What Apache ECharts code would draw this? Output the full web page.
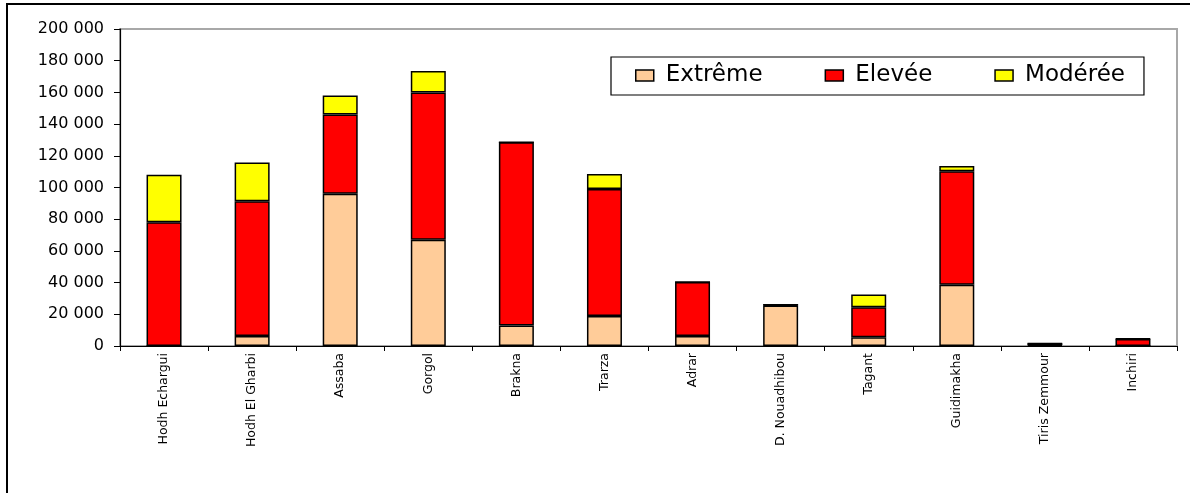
<!DOCTYPE html>
<html>
<head>
<meta charset="utf-8">
<title>Population par wilaya et niveau d'insécurité</title>
<script src="https://cdn.jsdelivr.net/npm/echarts@6/dist/echarts.min.js"></script>
<style>
  html, body { margin: 0; padding: 0; background: #fff; }
  #chart { position: absolute; left: 0; top: 0; width: 1190px; height: 493px; }
  #frame {
    position: absolute; left: 6px; top: 3px; width: 1200px; height: 500px;
    border-left: 2px solid #000; border-top: 2px solid #000; pointer-events: none;
  }
</style>
</head>
<body>
<div id="chart"></div>
<div id="frame"></div>
<script>
// Wilayas (categories) and population counts by severity level
const wilayas = ['Hodh Echargui', 'Hodh El Gharbi', 'Assaba', 'Gorgol', 'Brakna', 'Trarza',
                 'Adrar', 'D. Nouadhibou', 'Tagant', 'Guidimakha', 'Tiris Zemmour', 'Inchiri'];
const extreme = [0, 6300, 96000, 67000, 13000, 19000, 6300, 25500, 5500, 38700, 500, 0];
const elevee  = [78000, 85000, 50000, 93000, 115500, 80000, 34000, 500, 19000, 71500, 1000, 4400];
const moderee = [30000, 24500, 12000, 13500, 0, 9500, 0, 0, 8000, 3400, 200, 200];
const seriesNames = ['Extrême', 'Elevée', 'Modérée'];
const seriesColors = ['#FFCC99', '#FF0000', '#FFFF00'];
const yTicks = { min: 0, max: 200000, step: 20000 };

const fmt = v => String(v).replace(/\B(?=(\d{3})+(?!\d))/g, ' ');

const chart = echarts.init(document.getElementById('chart'), null, { renderer: 'canvas' });

const makeSeries = (name, data, color) => ({
  name,
  type: 'bar',
  stack: 'total',
  data,
  barWidth: 35,
  itemStyle: { color, borderColor: '#000', borderWidth: 1.5 },
  emphasis: { disabled: true }
});

chart.setOption({
  animation: false,
  backgroundColor: '#fff',
  textStyle: { fontFamily: 'DejaVu Sans' },
  grid: {
    left: 120, right: 13, top: 29, bottom: 147,
    show: true, borderColor: '#a8a8a8', borderWidth: 2, backgroundColor: 'transparent'
  },
  legend: {
    left: 611, top: 57,
    padding: [7, 19, 8, 24],
    itemGap: 62,
    itemWidth: 18, itemHeight: 11,
    icon: 'rect',
    borderColor: '#000', borderWidth: 1.2,
    selectedMode: false,
    itemStyle: { borderColor: '#000', borderWidth: 1.5 },
    textStyle: { fontFamily: 'DejaVu Sans', fontSize: 23, color: '#000', padding: [0, 0, 0, 7] },
    data: seriesNames
  },
  xAxis: {
    type: 'category',
    data: wilayas,
    axisLine: { lineStyle: { color: '#000', width: 1.2 } },
    axisTick: { show: true, length: 5, lineStyle: { color: '#000' } },
    axisLabel: {
      interval: 0, rotate: 90, margin: 7,
      fontFamily: 'DejaVu Sans', fontSize: 12.5, color: '#000'
    },
    splitLine: { show: false }
  },
  yAxis: {
    type: 'value',
    min: yTicks.min, max: yTicks.max, interval: yTicks.step,
    axisLine: { show: true, lineStyle: { color: '#000', width: 1.2 } },
    axisTick: { show: true, length: 6, inside: false, lineStyle: { color: '#000' } },
    axisLabel: {
      margin: 16, formatter: fmt,
      fontFamily: 'DejaVu Sans', fontSize: 16, color: '#000'
    },
    splitLine: { show: false }
  },
  series: [
    makeSeries(seriesNames[0], extreme, seriesColors[0]),
    makeSeries(seriesNames[1], elevee, seriesColors[1]),
    makeSeries(seriesNames[2], moderee, seriesColors[2])
  ]
});
</script>
</body>
</html>
